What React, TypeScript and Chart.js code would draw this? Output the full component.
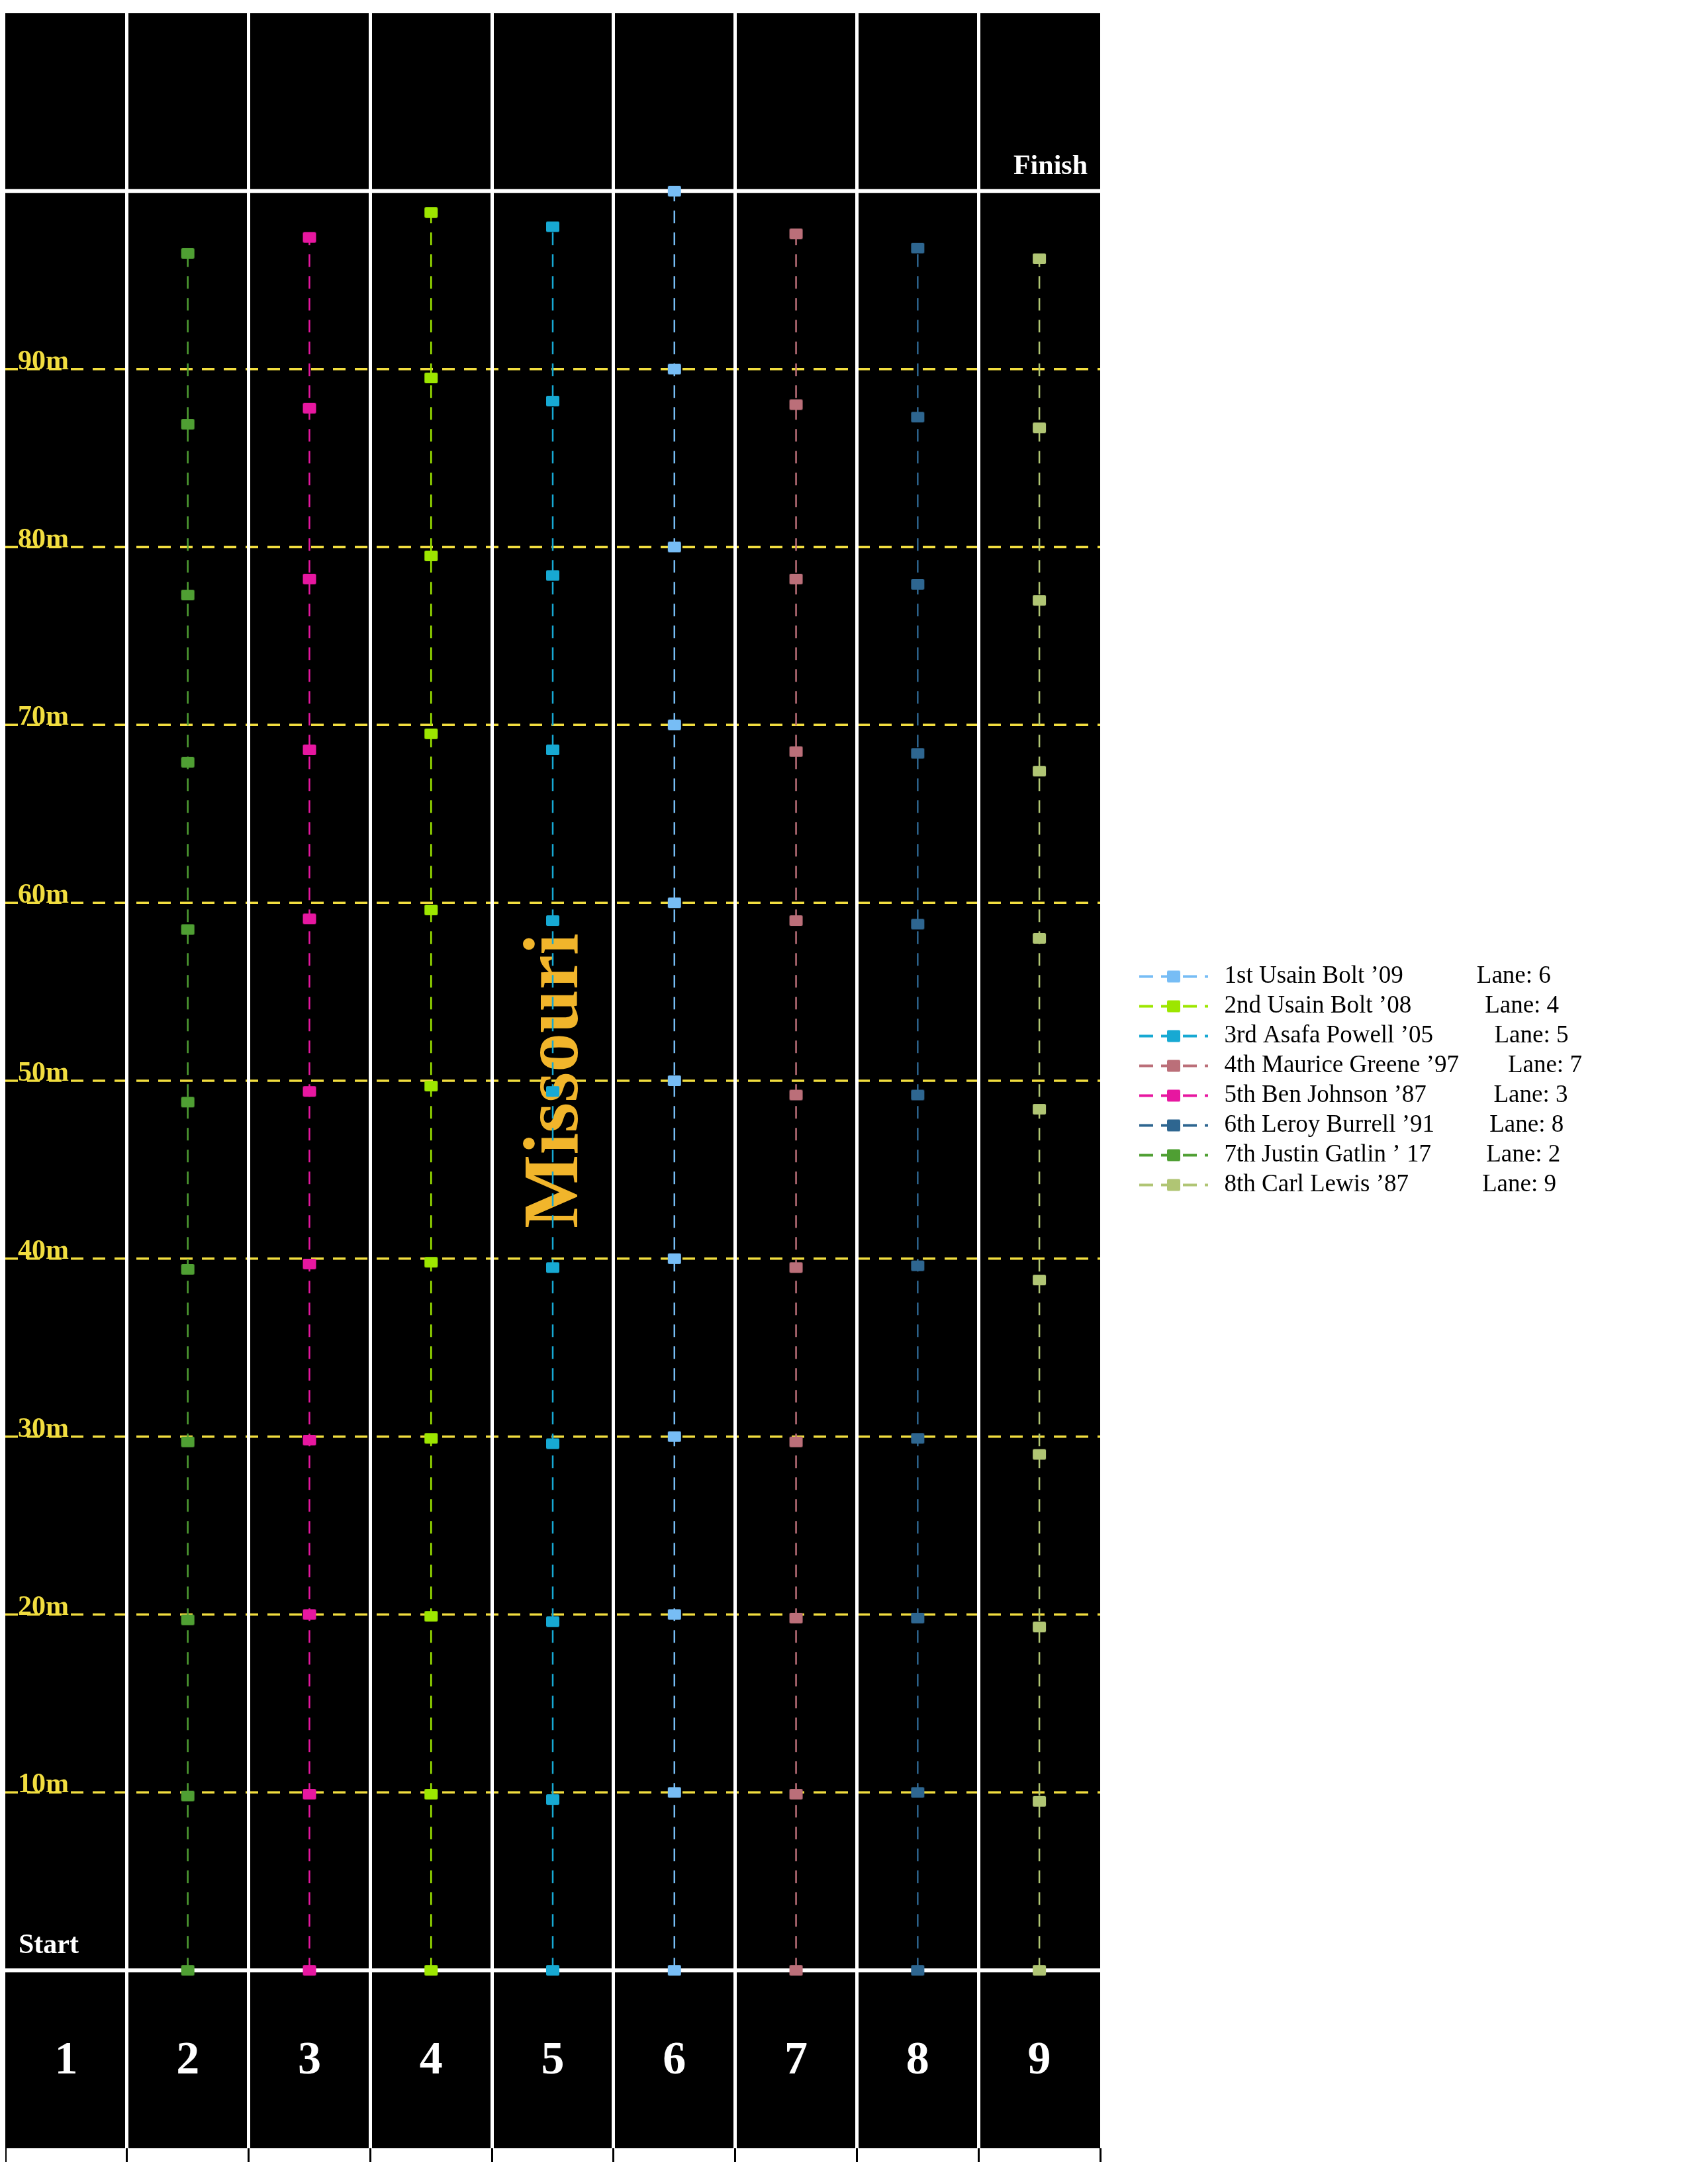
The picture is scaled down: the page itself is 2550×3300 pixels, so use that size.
import React, { useEffect, useRef } from "react";
import { Chart, registerables } from "chart.js";

Chart.register(...registerables);

// ---- data -------------------------------------------------------------
const TITLE = "Missouri";
const LANE_NUMBERS = ["1", "2", "3", "4", "5", "6", "7", "8", "9"];
const METER_MARKS = [10, 20, 30, 40, 50, 60, 70, 80, 90];
const METER_LABELS = ["10m", "20m", "30m", "40m", "50m", "60m", "70m", "80m", "90m"];

const LEGEND_TEXT = [
  "1st Usain Bolt \u201909            Lane: 6",
  "2nd Usain Bolt \u201908            Lane: 4",
  "3rd Asafa Powell \u201905          Lane: 5",
  "4th Maurice Greene \u201997        Lane: 7",
  "5th Ben Johnson \u201987           Lane: 3",
  "6th Leroy Burrell \u201991         Lane: 8",
  "7th Justin Gatlin \u2019 17         Lane: 2",
  "8th Carl Lewis \u201987            Lane: 9",
];
const LANES = [6, 4, 5, 7, 3, 8, 2, 9];
const COLORS = ["#77bdf5", "#9de600", "#17a9d3", "#bb6f79", "#e717a0", "#2e6690", "#4f9f33", "#b0c574"];

const bolt09 = [0, 10, 20, 30, 40, 50, 60, 70, 80, 90, 100];
const bolt08 = [0, 9.9, 19.9, 29.9, 39.8, 49.7, 59.6, 69.5, 79.5, 89.5, 98.8];
const powell05 = [0, 9.6, 19.6, 29.6, 39.5, 49.4, 59.0, 68.6, 78.4, 88.2, 98.0];
const greene97 = [0, 9.9, 19.8, 29.7, 39.5, 49.2, 59.0, 68.5, 78.2, 88.0, 97.6];
const johnson87 = [0, 9.9, 20.0, 29.8, 39.7, 49.4, 59.1, 68.6, 78.2, 87.8, 97.4];
const burrell91 = [0, 10.0, 19.8, 29.9, 39.6, 49.2, 58.8, 68.4, 77.9, 87.3, 96.8];
const gatlin17 = [0, 9.8, 19.7, 29.7, 39.4, 48.8, 58.5, 67.9, 77.3, 86.9, 96.5];
const lewis87 = [0, 9.5, 19.3, 29.0, 38.8, 48.4, 58.0, 67.4, 77.0, 86.7, 96.2];
const SPLITS = [bolt09, bolt08, powell05, greene97, johnson87, burrell91, gatlin17, lewis87];

// ---- layout constants ---------------------------------------------------
const CANVAS_W = 2534;
const CANVAS_H = 3284;
const AREA_RIGHT = 1654;
const SERIF = '"Liberation Serif", "Times New Roman", serif';
const YELLOW = "#f1dd3f";

function markerImage(color: string, w: number, h: number) {
  const c = document.createElement("canvas");
  c.width = w + 2;
  c.height = h + 2;
  const g = c.getContext("2d")!;
  g.fillStyle = color;
  g.beginPath();
  (g as any).roundRect(1, 1, w, h, 2);
  g.fill();
  return c;
}

function legendImage(color: string) {
  const c = document.createElement("canvas");
  c.width = 161;
  c.height = 24;
  const g = c.getContext("2d")!;
  g.strokeStyle = color;
  g.lineWidth = 4;
  g.setLineDash([21, 12]);
  g.beginPath();
  g.moveTo(51, 12);
  g.lineTo(155, 12);
  g.stroke();
  g.fillStyle = color;
  g.beginPath();
  (g as any).roundRect(93, 3, 20, 18, 2);
  g.fill();
  return c;
}

const trackPlugin = {
  id: "track",
  beforeDraw(chart: any) {
    const { ctx, chartArea: a } = chart;
    const ys = chart.scales.y;
    ctx.save();
    ctx.fillStyle = "#000";
    ctx.fillRect(a.left, a.top, a.right - a.left, a.bottom - a.top);
    // horizontal distance lines from the y scale's ticks
    ys.ticks.forEach((t: any) => {
      const v = t.value;
      if (v <= ys.min || v >= ys.max) return;
      const py = ys.getPixelForValue(v);
      const solid = v === 0 || v === 100;
      ctx.beginPath();
      ctx.strokeStyle = solid ? "#ffffff" : YELLOW;
      ctx.lineWidth = solid ? 6 : 3.5;
      ctx.setLineDash(solid ? [] : [19, 14]);
      ctx.moveTo(a.left, py);
      ctx.lineTo(a.right, py);
      ctx.stroke();
    });
    ctx.restore();
  },
  beforeDatasetsDraw(chart: any) {
    const { ctx, chartArea: a } = chart;
    const xs = chart.scales.x;
    const ys = chart.scales.y;
    // title down the middle lane
    ctx.save();
    ctx.translate(xs.getPixelForValue(4.7), ys.getPixelForValue(50));
    ctx.rotate(-Math.PI / 2);
    ctx.font = `bold 118px ${SERIF}`;
    ctx.fillStyle = "#f1b52b";
    ctx.textAlign = "center";
    ctx.textBaseline = "alphabetic";
    ctx.fillText(TITLE, 0, 0);
    ctx.restore();

    ctx.save();
    // meter labels
    ctx.font = `bold 42px ${SERIF}`;
    ctx.fillStyle = YELLOW;
    ctx.textAlign = "left";
    ctx.textBaseline = "alphabetic";
    METER_MARKS.forEach((m, i) => {
      ctx.fillText(METER_LABELS[i], a.left + 19, ys.getPixelForValue(m));
    });
    // start / finish
    ctx.fillStyle = "#ffffff";
    ctx.fillText("Start", a.left + 20, ys.getPixelForValue(0) - 26);
    ctx.textAlign = "right";
    ctx.fillText("Finish", a.right - 19, ys.getPixelForValue(100) - 26);
    // lane numbers
    ctx.font = `bold 70px ${SERIF}`;
    ctx.textAlign = "center";
    LANE_NUMBERS.forEach((n, i) => {
      ctx.fillText(n, xs.getPixelForValue(i + 0.5), ys.getPixelForValue(-5) + 21);
    });
    ctx.restore();
  },
};

export default function App() {
  const ref = useRef<HTMLCanvasElement | null>(null);

  useEffect(() => {
    if (!ref.current) return;
    const legendImgs = COLORS.map((c) => legendImage(c));
    const datasets = SPLITS.map((vals, i) => ({
      label: LEGEND_TEXT[i],
      data: vals.map((v) => ({ x: LANES[i] - 0.5, y: v })),
      showLine: true,
      borderColor: COLORS[i],
      backgroundColor: COLORS[i],
      borderWidth: 2.5,
      borderDash: [19, 14],
      pointStyle: markerImage(COLORS[i], 20, 16),
      pointRadius: 10,
      pointHoverRadius: 10,
    }));

    const chart = new Chart(ref.current, {
      type: "scatter",
      data: { datasets },
      plugins: [trackPlugin],
      options: {
        responsive: false,
        animation: false,
        events: [],
        layout: { autoPadding: false, padding: { top: 12, left: 0, bottom: 25, right: 0 } },
        scales: {
          x: {
            type: "linear",
            min: 0,
            max: 9,
            ticks: { stepSize: 1, display: false },
            border: { display: false },
            grid: {
              color: (c: any) => (c.tick && (c.tick.value === 0 || c.tick.value === 9) ? "rgba(0,0,0,0)" : "#ffffff"),
              lineWidth: 5,
              drawTicks: true,
              tickLength: 21,
              tickColor: "#000000",
              tickWidth: 3,
            },
          },
          y: {
            type: "linear",
            display: false,
            min: -10,
            max: 110,
            ticks: { stepSize: 10 },
          },
        },
        plugins: {
          tooltip: { enabled: false },
          title: { display: false },
          legend: {
            position: "right",
            align: "center",
            fullSize: false,
            labels: {
              usePointStyle: true,
              pointStyleWidth: 161,
              padding: 8,
              color: "#000000",
              font: { family: SERIF, size: 37 },
              generateLabels: () =>
                LEGEND_TEXT.map((t, i) => ({
                  text: t,
                  fillStyle: COLORS[i],
                  strokeStyle: COLORS[i],
                  lineWidth: 0,
                  pointStyle: legendImgs[i] as any,
                  hidden: false,
                  datasetIndex: i,
                })),
            },
          },
        },
      } as any,
    });

    const diff = chart.chartArea.right - AREA_RIGHT;
    if (Math.abs(diff) > 0.5) {
      (chart.options as any).layout.padding = { top: 12, left: 0, bottom: 25, right: Math.max(0, diff) };
      chart.update();
    }

    return () => chart.destroy();
  }, []);

  return (
    <div style={{ width: CANVAS_W, height: CANVAS_H }}>
      <canvas ref={ref} width={CANVAS_W} height={CANVAS_H} style={{ display: "block", width: CANVAS_W, height: CANVAS_H }} />
    </div>
  );
}
